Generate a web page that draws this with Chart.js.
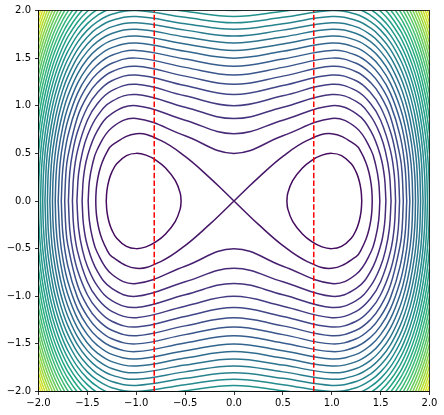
<!DOCTYPE html>
<html>
<head>
<meta charset="utf-8">
<script src="https://cdn.jsdelivr.net/npm/chart.js@4"></script>
<style>
  body { margin: 0; background: #fff; }
</style>
</head>
<body>
<canvas id="contourChart" width="444" height="415"></canvas>
<script>
const wellLevel = -0.125;
const sepLevel = 0;
const ringLevels = [0.125, 0.25, 0.375, 0.5, 0.625, 0.75, 0.875, 1.0,
                    1.125, 1.25, 1.375, 1.5, 1.625, 1.75, 1.875, 2.0];
const cornerLevels = [2.125, 2.25, 2.375, 2.5, 2.625, 2.75, 2.875, 3.0,
                      3.125, 3.25, 3.375, 3.5, 3.625, 3.75, 3.875];
const levelMin = -0.25;
const levelMax = 4.0;

// vertical dashed markers
const dashX = [-0.816, 0.816];
const tickVals = [-2, -1.5, -1, -0.5, 0, 0.5, 1, 1.5, 2];

// upper-right quarter of each contour; the picture is symmetric in x and y
const wellQuad = [[0.541, 0], [0.55, 0.082], [0.6, 0.213], [0.7, 0.346], [0.8, 0.430], [0.9, 0.482],
  [1.0, 0.5], [1.1, 0.477], [1.2, 0.391], [1.25, 0.303], [1.28, 0.215], [1.3, 0.109], [1.307, 0]];

const sepQuad = [[0, 0], [0.1, 0.0998], [0.25, 0.246], [0.5, 0.468], [0.75, 0.636], [1.0, 0.707],
  [1.25, 0.585], [1.3, 0.512], [1.35, 0.402], [1.38, 0.302], [1.4, 0.198], [1.41, 0.109], [1.414, 0]];

const ringQuads = [
  [[0, 0.5], [0.5, 0.685], [1, 0.866], [1.25, 0.769], [1.4, 0.538], [1.45, 0.377], [1.48, 0.204], [1.492, 0]],
  [[0, 0.707], [0.5, 0.848], [1, 1.0], [1.25, 0.918], [1.4, 0.734], [1.5, 0.468], [1.54, 0.244], [1.554, 0]],
  [[0, 0.866], [0.5, 0.984], [1, 1.118], [1.25, 1.045], [1.4, 0.888], [1.5, 0.685], [1.55, 0.516], [1.59, 0.287], [1.607, 0]],
  [[0, 1.0], [0.5, 1.104], [1, 1.225], [1.25, 1.158], [1.4, 1.019], [1.5, 0.848], [1.6, 0.532], [1.64, 0.270], [1.653, 0]],
  [[0, 1.118], [0.5, 1.212], [1, 1.323], [1.25, 1.262], [1.4, 1.135], [1.5, 0.984], [1.6, 0.730], [1.65, 0.516], [1.68, 0.299], [1.694, 0]],
  [[0, 1.225], [0.5, 1.311], [1, 1.414], [1.25, 1.357], [1.4, 1.241], [1.5, 1.104], [1.6, 0.885], [1.7, 0.463], [1.72, 0.287], [1.732, 0]],
  [[0, 1.323], [0.5, 1.403], [1, 1.5], [1.25, 1.446], [1.4, 1.338], [1.5, 1.212], [1.6, 1.017], [1.7, 0.681], [1.75, 0.351], [1.767, 0]],
  [[0, 1.414], [0.5, 1.490], [1, 1.581], [1.25, 1.530], [1.4, 1.428], [1.5, 1.311], [1.6, 1.133], [1.7, 0.845], [1.75, 0.611], [1.78, 0.386], [1.799, 0]],
  [[0, 1.5], [0.5, 1.571], [1, 1.658], [1.25, 1.610], [1.4, 1.513], [1.5, 1.403], [1.6, 1.238], [1.7, 0.982], [1.75, 0.789], [1.8, 0.491], [1.82, 0.276], [1.829, 0]],
  [[0, 1.581], [0.5, 1.649], [1, 1.732], [1.25, 1.686], [1.4, 1.594], [1.5, 1.490], [1.6, 1.335], [1.7, 1.102], [1.75, 0.934], [1.8, 0.701], [1.83, 0.491], [1.85, 0.256], [1.857, 0]],
  [[0, 1.658], [0.5, 1.723], [1, 1.803], [1.25, 1.758], [1.4, 1.670], [1.5, 1.571], [1.6, 1.426], [1.7, 1.210], [1.75, 1.060], [1.8, 0.861], [1.85, 0.562], [1.87, 0.364], [1.884, 0]],
  [[0, 1.732], [0.5, 1.794], [1, 1.871], [1.25, 1.828], [1.4, 1.743], [1.5, 1.649], [1.6, 1.511], [1.7, 1.309], [1.75, 1.172], [1.8, 0.996], [1.85, 0.752], [1.88, 0.537], [1.9, 0.307], [1.909, 0]],
  [[0, 1.803], [0.5, 1.862], [1, 1.936], [1.25, 1.895], [1.4, 1.814], [1.5, 1.723], [1.6, 1.592], [1.7, 1.401], [1.75, 1.274], [1.8, 1.114], [1.85, 0.903], [1.9, 0.587], [1.92, 0.376], [1.934, 0]],
  [[0, 1.871], [0.5, 1.928], [1, 2.0], [1.25, 1.960], [1.4, 1.881], [1.5, 1.794], [1.6, 1.668], [1.7, 1.488], [1.75, 1.369], [1.8, 1.221], [1.85, 1.032], [1.9, 0.771], [1.93, 0.536], [1.95, 0.271], [1.957, 0]],
  [[0, 1.936], [0.5, 1.992], [1, 2.062], [1.25, 2.023], [1.4, 1.947], [1.5, 1.862], [1.6, 1.742], [1.7, 1.570], [1.75, 1.457], [1.8, 1.320], [1.85, 1.147], [1.9, 0.919], [1.95, 0.569], [1.97, 0.317], [1.979, 0]],
  [[0, 2.0], [0.5, 2.054], [1, 2.121], [1.25, 2.084], [1.4, 2.010], [1.5, 1.928], [1.6, 1.812], [1.7, 1.647], [1.75, 1.541], [1.8, 1.411], [1.85, 1.251], [1.9, 1.046], [1.95, 0.757], [1.98, 0.485], [1.995, 0.244], [2.0, 0]]
];

const cornerQuads = [
  [[1.25, 2.143], [1.4, 2.071], [1.5, 1.992], [1.6, 1.880], [1.7, 1.722], [1.75, 1.620], [1.8, 1.497], [1.85, 1.348], [1.9, 1.159], [1.95, 0.908], [1.98, 0.697], [2.0, 0.5]],
  [[1.4, 2.131], [1.5, 2.054], [1.6, 1.945], [1.7, 1.793], [1.75, 1.695], [1.8, 1.578], [1.85, 1.437], [1.9, 1.263], [1.95, 1.036], [1.98, 0.858], [2.0, 0.707]],
  [[1.5, 2.114], [1.6, 2.008], [1.7, 1.861], [1.75, 1.767], [1.8, 1.656], [1.85, 1.522], [1.9, 1.358], [1.95, 1.150], [1.98, 0.993], [2.0, 0.866]],
  [[1.5, 2.172], [1.6, 2.070], [1.7, 1.927], [1.75, 1.837], [1.8, 1.730], [1.85, 1.602], [1.9, 1.447], [1.95, 1.254], [1.98, 1.112], [2.0, 1.0]],
  [[1.6, 2.129], [1.7, 1.991], [1.75, 1.903], [1.8, 1.800], [1.85, 1.678], [1.9, 1.531], [1.95, 1.350], [1.98, 1.219], [2.0, 1.118]],
  [[1.6, 2.187], [1.7, 2.053], [1.75, 1.968], [1.8, 1.869], [1.85, 1.751], [1.9, 1.611], [1.95, 1.440], [1.98, 1.317], [2.0, 1.225]],
  [[1.6, 2.244], [1.7, 2.113], [1.75, 2.031], [1.8, 1.934], [1.85, 1.821], [1.9, 1.686], [1.95, 1.524], [1.98, 1.409], [2.0, 1.323]],
  [[1.7, 2.171], [1.75, 2.091], [1.8, 1.998], [1.85, 1.888], [1.9, 1.759], [1.95, 1.604], [1.98, 1.495], [2.0, 1.414]],
  [[1.7, 2.228], [1.75, 2.150], [1.8, 2.059], [1.85, 1.953], [1.9, 1.829], [1.95, 1.680], [1.98, 1.577], [2.0, 1.5]],
  [[1.75, 2.208], [1.8, 2.119], [1.85, 2.016], [1.9, 1.896], [1.95, 1.753], [1.98, 1.654], [2.0, 1.581]],
  [[1.75, 2.263], [1.8, 2.177], [1.85, 2.077], [1.9, 1.961], [1.95, 1.823], [1.98, 1.728], [2.0, 1.658]],
  [[1.8, 2.234], [1.85, 2.137], [1.9, 2.023], [1.95, 1.890], [1.98, 1.799], [2.0, 1.732]],
  [[1.8, 2.289], [1.85, 2.195], [1.9, 2.084], [1.95, 1.955], [1.98, 1.867], [2.0, 1.803]],
  [[1.85, 2.251], [1.9, 2.143], [1.95, 2.018], [1.98, 1.933], [2.0, 1.871]],
  [[1.85, 2.306], [1.9, 2.201], [1.95, 2.079], [1.97, 2.025], [1.98, 1.996], [2.0, 1.937]]
];

// viridis stops, t = 0, 0.1, ... 1
const viridisStops = ['#440154', '#482475', '#414487', '#355f8d', '#2a788e', '#21918c',
                      '#22a884', '#44bf70', '#7ad151', '#bddf26', '#fde725'];

function hexToRgb(h) {
    return [parseInt(h.slice(1, 3), 16), parseInt(h.slice(3, 5), 16), parseInt(h.slice(5, 7), 16)];
}

function viridis(t) {
    t = Math.max(0, Math.min(1, t));
    const pos = t * (viridisStops.length - 1);
    const i = Math.min(Math.floor(pos), viridisStops.length - 2);
    const f = pos - i;
    const a = hexToRgb(viridisStops[i]);
    const b = hexToRgb(viridisStops[i + 1]);
    const c = a.map((v, j) => Math.round(v + (b[j] - v) * f));
    return 'rgb(' + c.join(',') + ')';
}

function levelColor(level) {
    return viridis((level - levelMin) / (levelMax - levelMin));
}

// mirror helpers
const flipY = a => a.map(([x, y]) => [x, -y]);
const flipX = a => a.map(([x, y]) => [-x, y]);

const datasets = [];

function addLine(path, level) {
    datasets.push({
        data: path.map(([x, y]) => ({ x: x, y: y })),
        showLine: true,
        borderColor: levelColor(level),
        borderWidth: 1.5,
        tension: 0.4,
        pointRadius: 0,
        fill: false,
        clip: 0,
        order: 1
    });
}

// loops round each well: upper and lower halves, split where the curve is vertical
addLine(wellQuad, wellLevel);
addLine(flipY(wellQuad), wellLevel);
addLine(flipX(wellQuad), wellLevel);
addLine(flipX(flipY(wellQuad)), wellLevel);

// separatrix lobes (they meet at the origin)
const sepPath = sepQuad.concat(flipY(sepQuad.slice(0, -1)).reverse());
addLine(sepPath, sepLevel);
addLine(flipX(sepPath), sepLevel);

// rings round both wells, as upper and lower halves
ringQuads.forEach((q, i) => {
    const upper = flipX(q.slice(1)).reverse().concat(q);
    addLine(upper, ringLevels[i]);
    addLine(flipY(upper), ringLevels[i]);
});

// outer levels, only seen in the corners
cornerQuads.forEach((q, i) => {
    addLine(q, cornerLevels[i]);
    addLine(flipY(q), cornerLevels[i]);
    addLine(flipX(q), cornerLevels[i]);
    addLine(flipX(flipY(q)), cornerLevels[i]);
});

// red dashed verticals
dashX.forEach(x => {
    datasets.push({
        data: [{ x: x, y: -2 }, { x: x, y: 2 }],
        showLine: true,
        borderColor: '#ff0000',
        borderWidth: 1.5,
        borderDash: [5.5, 2.4],
        tension: 0,
        pointRadius: 0,
        clip: 0,
        order: 0
    });
});

const fmt = v => v.toFixed(1).replace('-', '\u2212');
const tickFont = { family: 'DejaVu Sans', size: 10 };

// full box round the plot area
const frame = {
    id: 'frame',
    afterDatasetsDraw(chart) {
        const a = chart.chartArea;
        const c = chart.ctx;
        c.save();
        c.strokeStyle = '#000';
        c.lineWidth = 0.8;
        c.strokeRect(a.left, a.top, a.right - a.left, a.bottom - a.top);
        c.restore();
    }
};

const ctx = document.getElementById('contourChart').getContext('2d');
new Chart(ctx, {
    type: 'scatter',
    data: { datasets: datasets },
    options: {
        responsive: false,
        animation: false,
        layout: { padding: { top: 10.5, right: 14.5, bottom: 0, left: 0 } },
        elements: {
            point: { radius: 0 },
            line: { capBezierPoints: false }
        },
        plugins: {
            legend: { display: false },
            tooltip: { enabled: false }
        },
        scales: {
            x: {
                type: 'linear',
                min: -2,
                max: 2,
                afterBuildTicks: s => { s.ticks = tickVals.map(v => ({ value: v })); },
                ticks: { callback: fmt, font: tickFont, color: '#000', padding: 2, maxRotation: 0, autoSkip: false },
                grid: { drawOnChartArea: false, tickLength: 3.5, tickWidth: 0.8, tickColor: '#000' },
                border: { color: '#000', width: 0.8 },
                afterFit: s => { s.height = 23.5; }
            },
            y: {
                type: 'linear',
                min: -2,
                max: 2,
                afterBuildTicks: s => { s.ticks = tickVals.map(v => ({ value: v })); },
                ticks: { callback: fmt, font: tickFont, color: '#000', padding: 4, autoSkip: false },
                grid: { drawOnChartArea: false, tickLength: 3.5, tickWidth: 0.8, tickColor: '#000' },
                border: { color: '#000', width: 0.8 },
                afterFit: s => { s.width = 38.5; }
            }
        }
    },
    plugins: [frame]
});
</script>
</body>
</html>
